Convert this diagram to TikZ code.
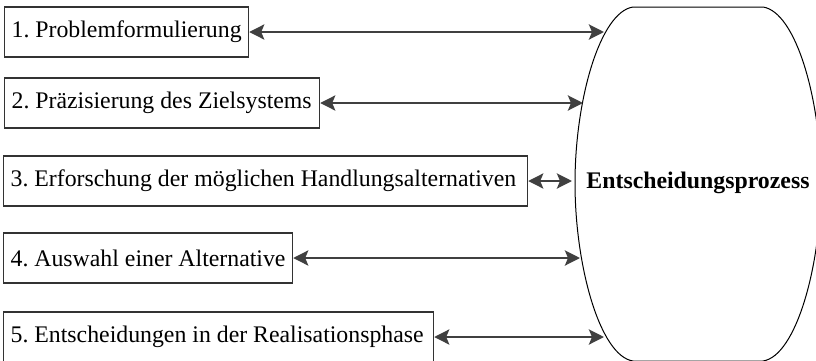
\documentclass[tikz,border=0pt]{standalone}
\usepackage{fontspec}
\setmainfont{Liberation Serif}
\usetikzlibrary{arrows.meta}
\frenchspacing
\definecolor{linegray}{HTML}{404040}
\definecolor{boxgray}{HTML}{333333}
\tikzset{
  phase/.style={draw=boxgray, line width=1.2pt, anchor=west, inner xsep=7pt,
    minimum height=50pt, font=\fontsize{23.8}{28}\selectfont},
  link/.style={draw=linegray, line width=2.8pt,
    {Stealth[length=15pt,width=15pt,inset=3pt]}-{Stealth[length=15pt,width=15pt,inset=3pt]}},
}
% left-aligned label of fixed width inside a phase box
\newcommand{\phaselabel}[2]{\makebox[#1][l]{#2}}
\begin{document}
\begin{tikzpicture}[x=1pt,y=-1pt]
\useasboundingbox (0,0) rectangle (816,360);
% decision process outline: flat top and bottom, bulging sides
\draw[line width=1pt, black]
  (633,7) -- (763,7)
  .. controls (796,12) and (821,100) .. (821,183)
  .. controls (821,266) and (796,356) .. (763,361)
  -- (633,361)
  .. controls (600,356) and (575,266) .. (575,183)
  .. controls (575,100) and (600,12) .. (633,7) -- cycle;
\node[font=\fontsize{23.8}{28}\selectfont\bfseries] (proc) at (698,183) {Entscheidungsprozess};

% phases
\node[phase] (p1) at (4,32) {\phaselabel{230pt}{1. Problemformulierung}};
\node[phase] (p2) at (4,103) {\phaselabel{301pt}{2. Präzisierung des Zielsystems}};
\node[phase] (p3) at (3,181) {\phaselabel{510pt}{3. Erforschung der möglichen Handlungsalternativen}};
\node[phase] (p4) at (3,258) {\phaselabel{275pt}{4. Auswahl einer Alternative}};
\node[phase] (p5) at (3,337) {\phaselabel{416pt}{5. Entscheidungen in der Realisationsphase}};

% contact points on the outline
\coordinate (e1) at (604,32);
\coordinate (e2) at (583,103);
\coordinate (e3) at (572,181);
\coordinate (e4) at (580,258);
\coordinate (e5) at (604,337);

\draw[link] (p1.east |- e1) -- (e1);
\draw[link] (p2.east |- e2) -- (e2);
\draw[link] (p3.east |- e3) -- (e3);
\draw[link] (p4.east |- e4) -- (e4);
\draw[link] (p5.east |- e5) -- (e5);
\end{tikzpicture}
\end{document}
